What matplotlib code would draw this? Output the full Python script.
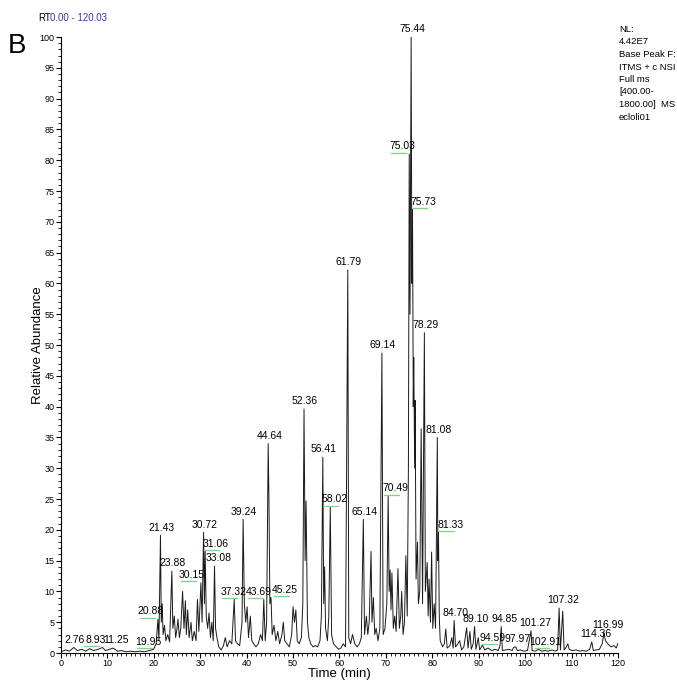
import matplotlib
matplotlib.use("Agg")
import matplotlib.pyplot as plt
from matplotlib.ticker import MultipleLocator
from matplotlib.transforms import ScaledTranslation

plt.rcParams['font.family'] = ['Liberation Sans', 'DejaVu Sans']

# base peak chromatogram (time in min, relative abundance)
rt = [0, 1.0, 1.8, 2.76, 3.5, 4.5, 5.3, 6.2, 7.0, 8.0, 8.93, 9.6, 10.4, 11.25, 12.2, 13.0,
      14.0, 15.0, 16.0, 17.0, 18.0, 19.0, 19.95, 20.5, 20.88, 21.1, 21.43, 21.6, 21.8, 22.0,
      22.3, 22.6, 23.0, 23.4, 23.88, 24.1, 24.4, 24.7, 25.0, 25.2, 25.5, 25.8, 26.2, 26.5,
      26.8, 27.0, 27.3, 27.6, 28.0, 28.3, 28.7, 29.1, 29.4, 29.7, 30.15, 30.4, 30.72, 30.9,
      31.06, 31.3, 31.6, 31.9, 32.2, 32.5, 32.8, 33.08, 33.3, 33.6, 34.0, 34.5, 35.0, 35.4,
      35.8, 36.3, 36.8, 37.32, 37.6, 38.0, 38.5, 39.0, 39.24, 39.5, 39.8, 40.1, 40.4, 40.8,
      41.1, 41.5, 42.0, 42.5, 43.0, 43.4, 43.69, 44.0, 44.3, 44.64, 44.8, 45.0, 45.25, 45.5,
      45.9, 46.3, 46.7, 47.1, 47.6, 47.9, 48.2, 48.7, 49.2, 49.7, 50.0, 50.3, 50.6, 50.9,
      51.3, 51.8, 52.1, 52.36, 52.6, 52.8, 53.1, 53.4, 53.8, 54.3, 54.8, 55.3, 55.8, 56.1,
      56.41, 56.6, 56.8, 57.0, 57.4, 57.7, 58.02, 58.3, 58.7, 59.3, 59.8, 60.3, 60.8, 61.3,
      61.79, 62.0, 62.4, 62.8, 63.3, 63.8, 64.3, 64.7, 65.14, 65.4, 65.8, 66.1, 66.4, 66.8,
      67.0, 67.3, 67.6, 67.9, 68.3, 68.7, 69.14, 69.4, 69.8, 70.2, 70.49, 70.7, 70.9, 71.1,
      71.3, 71.6, 71.9, 72.2, 72.6, 72.9, 73.2, 73.4, 73.7, 74.0, 74.3, 74.6, 74.85, 75.03,
      75.2, 75.44, 75.6, 75.73, 75.9, 76.0, 76.2, 76.3, 76.5, 76.8, 77.0, 77.3, 77.6, 77.9,
      78.29, 78.5, 78.9, 79.1, 79.3, 79.6, 79.85, 80.1, 80.4, 80.7, 81.08, 81.2, 81.33, 81.5,
      81.7, 82.2, 82.6, 82.9, 83.2, 83.8, 84.2, 84.5, 84.70, 85.0, 85.5, 85.9, 86.3, 86.8,
      87.4, 87.7, 88.1, 88.4, 88.8, 89.10, 89.4, 89.9, 90.2, 90.8, 91.3, 92.0, 92.8, 93.5,
      94.2, 94.59, 94.85, 95.1, 95.8, 96.5, 97.2, 97.5, 97.97, 98.3, 99.0, 99.7, 100.5,
      101.27, 101.5, 102.2, 102.91, 103.6, 104.3, 105.0, 105.8, 106.5, 107.0, 107.32, 107.6,
      108.1, 108.4, 108.9, 109.2, 109.5, 110.2, 111.0, 111.8, 112.5, 113.2, 113.9, 114.36,
      114.7, 115.4, 116.0, 116.6, 116.99, 117.3, 117.8, 118.5, 119.2, 119.6, 120.0]
abundance = [0.2, 0.5, 0.3, 0.9, 0.4, 0.6, 0.3, 0.7, 0.4, 0.6, 0.9, 0.4, 0.6, 0.8, 0.3, 0.4,
             0.2, 0.3, 0.2, 0.3, 0.2, 0.4, 0.6, 1.5, 5.5, 2.0, 19.1, 5.0, 8.0, 3.0,
             4.5, 2.0, 3.0, 1.8, 13.3, 4.0, 6.0, 2.5, 4.0, 5.5, 2.5, 4.0, 10.0, 4.0,
             8.5, 3.0, 7.0, 2.5, 5.0, 2.0, 3.5, 2.0, 8.7, 3.5, 11.4, 5.0, 19.6, 8.0,
             16.5, 6.0, 4.0, 6.5, 2.5, 5.0, 2.0, 14.1, 4.0, 2.5, 1.0, 0.5, 1.2, 2.5,
             1.0, 2.0, 1.5, 8.7, 2.0, 1.5, 1.2, 5.0, 21.7, 8.0, 5.0, 7.5, 2.5, 6.0,
             2.0, 1.5, 1.0, 1.5, 3.0, 2.0, 8.7, 2.0, 5.0, 34.0, 25.0, 8.0, 9.0, 3.0,
             4.5, 2.0, 3.5, 1.5, 3.0, 5.0, 2.0, 1.5, 1.0, 3.0, 7.5, 5.0, 7.0, 2.0,
             1.5, 2.5, 8.0, 39.6, 15.0, 24.7, 5.0, 2.5, 1.5, 1.0, 1.2, 1.0, 2.0, 6.0,
             31.8, 8.0, 14.0, 4.0, 2.0, 6.0, 23.7, 3.0, 1.5, 1.0, 0.6, 0.8, 1.5, 1.0,
             62.2, 2.5, 1.5, 3.0, 1.5, 1.0, 1.5, 2.5, 21.7, 3.0, 6.0, 3.0, 5.0, 16.5,
             5.0, 9.0, 3.0, 4.0, 2.0, 4.0, 48.7, 3.0, 4.0, 8.0, 25.5, 10.0, 13.5, 7.0,
             13.0, 4.0, 6.0, 3.5, 13.7, 4.0, 6.0, 10.0, 3.0, 5.0, 15.8, 6.0, 30.0, 81.0,
             55.0, 100.0, 60.0, 72.0, 40.0, 48.0, 30.0, 41.0, 12.0, 18.0, 8.0, 10.0, 36.4, 8.0,
             52.0, 10.0, 14.7, 6.0, 12.0, 5.0, 16.4, 4.0, 8.0, 4.0, 35.0, 15.0, 19.6, 6.0,
             2.0, 1.0, 1.5, 3.9, 0.8, 1.2, 2.5, 0.8, 5.3, 1.0, 1.5, 2.0, 0.5, 1.0,
             4.1, 0.8, 3.5, 0.6, 1.5, 4.3, 0.6, 2.5, 0.5, 1.3, 0.5, 0.8, 0.4, 0.6,
             0.4, 1.2, 4.3, 0.4, 0.5, 0.6, 0.4, 0.9, 1.0, 0.4, 0.5, 0.3, 0.4,
             3.6, 0.4, 0.3, 0.6, 0.3, 0.4, 0.3, 0.5, 0.3, 0.5, 7.3, 0.5,
             6.8, 0.5, 1.0, 1.5, 0.6, 0.4, 0.5, 0.3, 0.4, 0.3, 0.6, 1.8,
             0.4, 0.5, 0.6, 1.5, 3.3, 2.0, 1.5, 1.0, 1.2, 0.8, 1.6]

# labelled peaks
peak_labels = ["2.76", "8.93", "11.25", "19.95", "20.88", "21.43", "23.88", "30.15", "30.72",
               "31.06", "33.08", "37.32", "39.24", "43.69", "44.64", "45.25", "52.36", "56.41",
               "58.02", "61.79", "65.14", "69.14", "70.49", "75.03", "75.44", "75.73", "78.29",
               "81.08", "81.33", "84.70", "89.10", "94.59", "94.85", "97.97", "101.27", "102.91",
               "107.32", "114.36", "116.99"]
# labels drawn with the small green marker (not apex of the trace)
marked = ["8.93", "19.95", "20.88", "30.15", "31.06", "37.32", "43.69", "45.25", "58.02",
          "70.49", "75.03", "75.73", "81.33", "94.59", "102.91"]

info_text = "NL:\n4.42E7\nBase Peak F:\nITMS + c NSI\nFull ms\n[400.00-\n1800.00]  MS\necloli01"

# horizontal nudges of some labels (pixels), as the instrument software placed them
nudge = {"8.93": -7, "11.25": 3, "19.95": -5, "20.88": -7, "30.15": -9, "31.06": 10,
         "33.08": 4, "37.32": -1, "43.69": -5, "45.25": 14, "58.02": 4, "70.49": 7,
         "75.03": -7, "75.73": 11, "81.33": 12, "94.59": -7, "94.85": 3, "97.97": 2,
         "101.27": 4, "102.91": 7, "114.36": 4, "116.99": 4, "107.32": 4}

fig = plt.figure(figsize=(6.77, 6.82), dpi=100)
ax = fig.add_axes([0.0901, 0.0425, 0.8227, 0.9032])

ax.plot(rt, abundance, color='#1a1a1a', lw=0.7)

for lab in peak_labels:
    x = float(lab)
    y = abundance[rt.index(x)]
    dx = nudge.get(lab, 1) * 0.72
    ax.annotate(lab, (x, y), xytext=(dx, 2), textcoords='offset points',
                ha='center', va='bottom', fontsize=7.5, annotation_clip=False)
    if lab in marked:
        shift = ScaledTranslation((dx - 4) / 72, 1 / 72, fig.dpi_scale_trans)
        ax.plot([x - 1.2, x + 2.0], [y, y], color='#7ed67e', lw=0.9,
                transform=ax.transData + shift)

ax.set_xlim(0, 120)
ax.set_ylim(0, 100)
ax.xaxis.set_major_locator(MultipleLocator(10))
ax.xaxis.set_minor_locator(MultipleLocator(1))
ax.yaxis.set_major_locator(MultipleLocator(5))
ax.yaxis.set_minor_locator(MultipleLocator(1))
ax.tick_params(which='major', direction='out', length=3.5, width=0.8, labelsize=6.5, pad=1)
ax.tick_params(which='minor', direction='out', length=2, width=0.6)
ax.spines['top'].set_visible(False)
ax.spines['right'].set_visible(False)

ax.set_xlabel("Time (min)", fontsize=9.5, labelpad=0)
ax.set_ylabel("Relative Abundance", fontsize=9.5, labelpad=-3)

fig.text(38 / 677, 1 - 18 / 682, "RT", fontsize=7, va='center', ha='left')
fig.text(50 / 677, 1 - 18 / 682, "0.00 - 120.03", fontsize=7, va='center', ha='left', color='#3a3aa8')
fig.text(8 / 677, 1 - 46 / 682, "B", fontsize=20, va='center', ha='left')
fig.text(619 / 677, 1 - 25 / 682, info_text, fontsize=6.8, va='top', ha='left', linespacing=1.5)

fig.savefig("out.png", dpi=100)
